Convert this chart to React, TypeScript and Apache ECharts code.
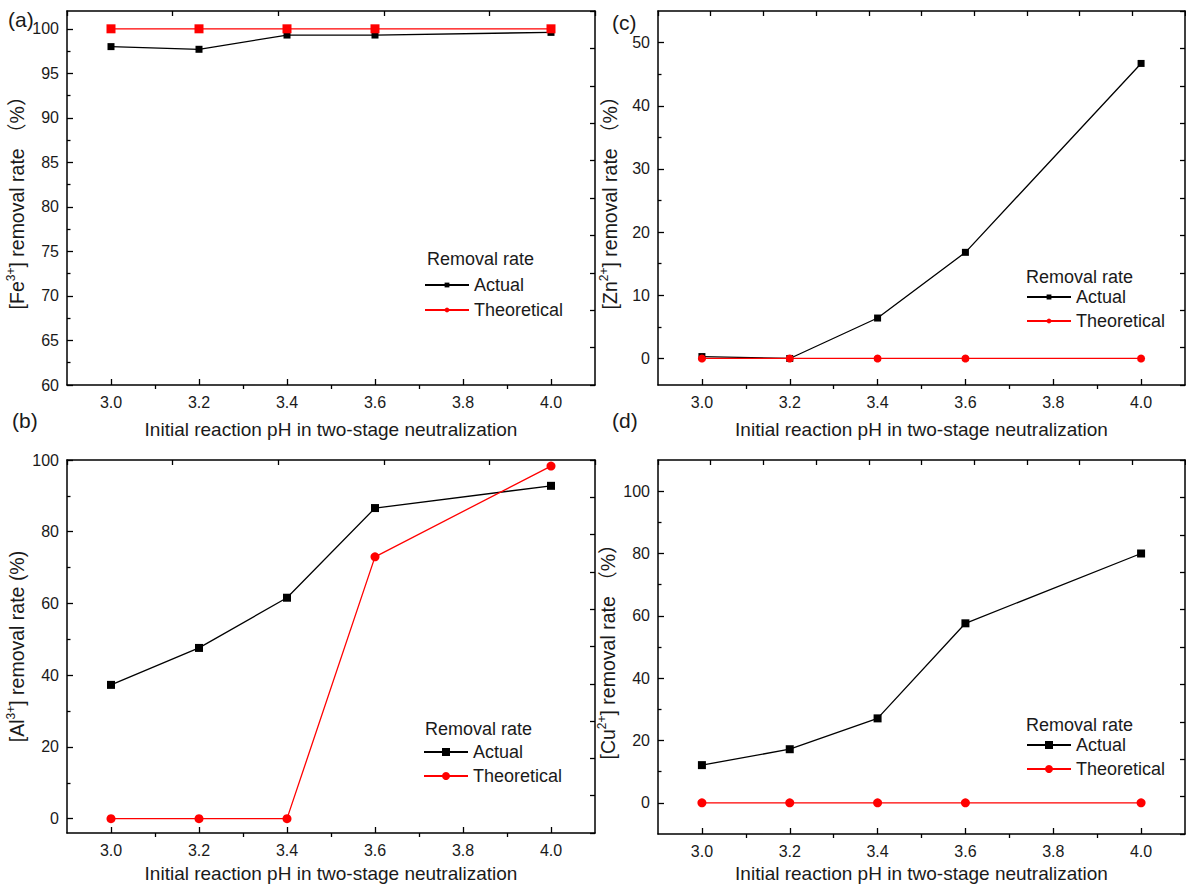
import React, { useEffect, useRef } from 'react';
import * as echarts from 'echarts';

// ---------- data ----------
const phValues = [3.0, 3.2, 3.4, 3.6, 4.0];

const feActual = [98.0, 97.7, 99.3, 99.3, 99.6];
const feTheoretical = [100, 100, 100, 100, 100];

const znActual = [0.3, 0.0, 6.4, 16.8, 46.7];
const znTheoretical = [0, 0, 0, 0, 0];

const alActual = [37.3, 47.6, 61.6, 86.6, 92.8];
const alTheoretical = [0, 0, 0, 73.0, 98.3];

const cuActual = [12.1, 17.2, 27.1, 57.6, 80.0];
const cuTheoretical = [0, 0, 0, 0, 0];

// ---------- tick labels ----------
const xTickLabels = [3.0, 3.2, 3.4, 3.6, 3.8, 4.0];
const xMinorTicks = [3.1, 3.3, 3.5, 3.7, 3.9];

const feYTicks = [60, 65, 70, 75, 80, 85, 90, 95, 100];
const feYMinor = [62.5, 67.5, 72.5, 77.5, 82.5, 87.5, 92.5, 97.5];
const znYTicks = [0, 10, 20, 30, 40, 50];
const znYMinor = [5, 15, 25, 35, 45];
const alYTicks = [0, 20, 40, 60, 80, 100];
const alYMinor = [10, 30, 50, 70, 90];
const cuYTicks = [0, 20, 40, 60, 80, 100];
const cuYMinor = [10, 30, 50, 70, 90];

const FONT = '"Liberation Sans", Arial, "Noto Sans CJK SC", sans-serif';
const TXT = '#1a1a1a';
const RED = '#ff0000';
const BLK = '#000000';

type Panel = {
  key: string;
  label: string;
  yName: string;
  actual: number[];
  theoretical: number[];
  yTicks: number[];
  yMinor: number[];
  yMin: number;
  yMax: number;
  grid: { left: number; top: number; width: number; height: number };
  theoSymbol: string;
  theoDataSymbol: string;
  actSize: number;
  theoSize: number;
  yNameGap: number;
  xNameGap: number;
  labelPos: { left: number; top: number };
  legendPos: { left: number; top: number };
  legendTitlePos: { left: number; top: number };
  legendSym: number;
  legendGap: number;
  topTickInterval: number;
};

const panels: Panel[] = [
  {
    key: 'a', label: '(a)', yName: '[Fe{sup|3+}] removal rate （%）',
    actual: feActual, theoretical: feTheoretical,
    yTicks: feYTicks, yMinor: feYMinor, yMin: 60, yMax: 102,
    grid: { left: 67, top: 11, width: 528, height: 374 },
    theoSymbol: 'circle', theoDataSymbol: 'rect', actSize: 7, theoSize: 9,
    yNameGap: 35, xNameGap: 35,
    labelPos: { left: 8, top: 9 },
    legendPos: { left: 424, top: 276 }, legendTitlePos: { left: 427, top: 250 },
    legendSym: 6, legendGap: 7, topTickInterval: 2,
  },
  {
    key: 'c', label: '(c)', yName: '[Zn{sup|2+}] removal rate （%）',
    actual: znActual, theoretical: znTheoretical,
    yTicks: znYTicks, yMinor: znYMinor, yMin: -4.2, yMax: 55,
    grid: { left: 658, top: 11, width: 527, height: 374 },
    theoSymbol: 'circle', theoDataSymbol: 'circle', actSize: 7, theoSize: 8,
    yNameGap: 37, xNameGap: 35,
    labelPos: { left: 612, top: 12 },
    legendPos: { left: 1026, top: 288 }, legendTitlePos: { left: 1026, top: 268 },
    legendSym: 6, legendGap: 6, topTickInterval: 1,
  },
  {
    key: 'b', label: '(b)', yName: '[Al{sup|3+}] removal rate (%)',
    actual: alActual, theoretical: alTheoretical,
    yTicks: alYTicks, yMinor: alYMinor, yMin: -4, yMax: 100,
    grid: { left: 67, top: 460, width: 528, height: 373 },
    theoSymbol: 'circle', theoDataSymbol: 'circle', actSize: 8, theoSize: 9,
    yNameGap: 35, xNameGap: 31,
    labelPos: { left: 12, top: 410 },
    legendPos: { left: 423, top: 743 }, legendTitlePos: { left: 425, top: 720 },
    legendSym: 10, legendGap: 6, topTickInterval: 2,
  },
  {
    key: 'd', label: '(d)', yName: '[Cu{sup|2+}] removal rate （%）',
    actual: cuActual, theoretical: cuTheoretical,
    yTicks: cuYTicks, yMinor: cuYMinor, yMin: -10, yMax: 110,
    grid: { left: 658, top: 460, width: 527, height: 374 },
    theoSymbol: 'circle', theoDataSymbol: 'circle', actSize: 8, theoSize: 9,
    yNameGap: 35, xNameGap: 30,
    labelPos: { left: 612, top: 410 },
    legendPos: { left: 1026, top: 736 }, legendTitlePos: { left: 1026, top: 716 },
    legendSym: 10, legendGap: 6, topTickInterval: 1,
  },
];

function buildOption() {
  const grid: any[] = [];
  const xAxis: any[] = [];
  const yAxis: any[] = [];
  const series: any[] = [];
  const legend: any[] = [];
  const title: any[] = [];

  const lineAx = { show: true, lineStyle: { color: BLK, width: 1.5 } };

  panels.forEach((p, i) => {
    grid.push({ ...p.grid, containLabel: false, show: false });

    xAxis.push({
      type: 'value', gridIndex: i, position: 'bottom', min: 2.9, max: 4.1,
      axisLine: { ...lineAx, onZero: false },
      axisTick: { show: true, inside: true, length: 6, customValues: xTickLabels, lineStyle: { color: BLK, width: 1.3 } },
      axisLabel: {
        show: true, customValues: xTickLabels, margin: 9, fontSize: 16, color: TXT, fontFamily: FONT,
        formatter: (v: number) => v.toFixed(1),
      },
      splitLine: { show: false },
      name: 'Initial reaction pH in two-stage neutralization',
      nameLocation: 'middle', nameGap: p.xNameGap,
      nameTextStyle: { fontSize: 19, color: TXT, fontFamily: FONT },
    });
    xAxis.push({
      type: 'value', gridIndex: i, position: 'bottom', min: 2.9, max: 4.1,
      axisLine: { show: false, onZero: false },
      axisTick: { show: true, inside: false, length: 4, customValues: xMinorTicks, lineStyle: { color: BLK, width: 1.3 } },
      axisLabel: { show: false },
      splitLine: { show: false },
    });
    xAxis.push({
      type: 'value', gridIndex: i, position: 'top', min: 0, max: 10, interval: p.topTickInterval,
      axisLine: { ...lineAx, onZero: false },
      axisTick: { show: true, inside: true, length: 5, lineStyle: { color: BLK, width: 1.3 } },
      axisLabel: { show: false },
      splitLine: { show: false },
    });

    yAxis.push({
      type: 'value', gridIndex: i, position: 'left', min: p.yMin, max: p.yMax,
      axisLine: { ...lineAx, onZero: false },
      axisTick: { show: true, inside: true, length: 6, customValues: p.yTicks, lineStyle: { color: BLK, width: 1.3 } },
      axisLabel: { show: true, customValues: p.yTicks, margin: 8, fontSize: 16, color: TXT, fontFamily: FONT },
      splitLine: { show: false },
      name: p.yName, nameLocation: 'middle', nameGap: p.yNameGap, nameRotate: 90,
      nameTextStyle: {
        fontSize: 19.5, color: TXT, fontFamily: FONT, lineHeight: 23,
        rich: { sup: { fontSize: 12, lineHeight: 12, verticalAlign: 'top', color: TXT, fontFamily: FONT } },
      },
    });
    yAxis.push({
      type: 'value', gridIndex: i, position: 'left', min: p.yMin, max: p.yMax,
      axisLine: { show: false, onZero: false },
      axisTick: { show: true, inside: true, length: 3.5, customValues: p.yMinor, lineStyle: { color: BLK, width: 1.3 } },
      axisLabel: { show: false },
      splitLine: { show: false },
    });
    yAxis.push({
      type: 'value', gridIndex: i, position: 'right', min: 0, max: 10, interval: 1,
      axisLine: { ...lineAx, onZero: false },
      axisTick: { show: true, inside: true, length: 5, lineStyle: { color: BLK, width: 1.3 } },
      axisLabel: { show: false },
      splitLine: { show: false },
    });

    const xi = i * 3;
    const yi = i * 3;
    series.push({
      type: 'line', name: `Actual_${p.key}`, xAxisIndex: xi, yAxisIndex: yi,
      data: phValues.map((x, k) => [x, p.actual[k]]),
      symbol: 'rect', symbolSize: p.actSize,
      itemStyle: { color: BLK }, lineStyle: { color: BLK, width: 1.3 }, z: 3,
    });
    series.push({
      type: 'line', name: `Theoretical_${p.key}`, xAxisIndex: xi, yAxisIndex: yi,
      data: phValues.map((x, k) => ({ value: [x, p.theoretical[k]], symbol: p.theoDataSymbol })),
      symbol: p.theoSymbol, symbolSize: p.theoSize,
      itemStyle: { color: RED }, lineStyle: { color: RED, width: 1.3 }, z: 4,
    });

    legend.push({
      data: [`Actual_${p.key}`, `Theoretical_${p.key}`],
      orient: 'vertical', left: p.legendPos.left, top: p.legendPos.top,
      itemWidth: 44, itemHeight: p.legendSym, itemGap: p.legendGap, padding: 0,
      selectedMode: false,
      formatter: (n: string) => n.split('_')[0],
      textStyle: { fontSize: 18, lineHeight: 18, color: TXT, fontFamily: FONT },
    });

    title.push({
      text: p.label, left: p.labelPos.left, top: p.labelPos.top, padding: 0,
      textStyle: { fontSize: 21, fontWeight: 'normal', color: TXT, fontFamily: FONT },
    });
    title.push({
      text: 'Removal rate', left: p.legendTitlePos.left, top: p.legendTitlePos.top, padding: 0,
      textStyle: { fontSize: 18, fontWeight: 'normal', color: TXT, fontFamily: FONT },
    });
  });

  return {
    animation: false,
    backgroundColor: '#ffffff',
    grid, xAxis, yAxis, series, legend, title,
  };
}

export default function App() {
  const ref = useRef<HTMLDivElement>(null);
  useEffect(() => {
    if (!ref.current) return;
    const chart = echarts.init(ref.current, undefined, { renderer: 'svg' });
    chart.setOption(buildOption() as any);
    return () => chart.dispose();
  }, []);
  return (
    <div
      ref={ref}
      style={{ position: 'fixed', left: 0, top: 0, width: 1186, height: 888, background: '#fff' }}
    />
  );
}
